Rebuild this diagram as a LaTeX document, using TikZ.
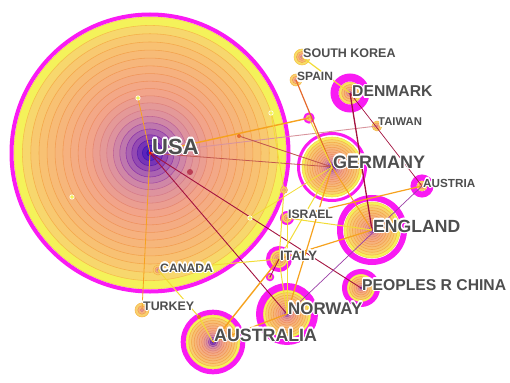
\documentclass[tikz,border=0pt]{standalone}
\usepackage{fontspec}
\setmainfont{Liberation Sans}
\usepackage{contour}
\contourlength{1.1pt}
\contournumber{16}
% fill stops
\definecolor{f0}{HTML}{3018C0}
\definecolor{f1}{HTML}{5A22BC}
\definecolor{f2}{HTML}{8C42B2}
\definecolor{f3}{HTML}{B872B0}
\definecolor{f4}{HTML}{DC92A0}
\definecolor{f5}{HTML}{F2A48A}
\definecolor{f6}{HTML}{F6B27E}
\definecolor{f7}{HTML}{F8C272}
\definecolor{f8}{HTML}{F8D270}
\definecolor{f9}{HTML}{F4F25A}
% line stops
\definecolor{l0}{HTML}{2010A0}
\definecolor{l1}{HTML}{4018B0}
\definecolor{l2}{HTML}{7020A8}
\definecolor{l3}{HTML}{9A40A8}
\definecolor{l4}{HTML}{D47A8C}
\definecolor{l5}{HTML}{EE8E62}
\definecolor{l6}{HTML}{F29A52}
\definecolor{l7}{HTML}{F4A848}
\definecolor{l8}{HTML}{F6B848}
\definecolor{l9}{HTML}{F6D44C}
\definecolor{mag}{HTML}{F91BF3}
\definecolor{labc}{HTML}{4E4E4E}
\definecolor{eorange}{HTML}{F6A21E}
\definecolor{eyellow}{HTML}{F2DC36}
\definecolor{edark}{HTML}{A3123F}
\definecolor{epink}{HTML}{D8949C}
\definecolor{epurple}{HTML}{9A3FA6}
\definecolor{ebrown}{HTML}{C2574E}
\definecolor{ered}{HTML}{E56A2C}
\newcommand\rseg[4]{\pgfmathsetmacro\rpc{100*(#2-\rtv)/(#2-#1)}%
  \colorlet{rc}{f#3!\rpc!f#4}\colorlet{rl}{l#3!\rpc!l#4}}
\newcommand\setrc[1]{%
  \pgfmathsetmacro\rtv{#1}%
  \ifdim\rtv pt<0.04pt \rseg{0}{0.04}{0}{1}\else
  \ifdim\rtv pt<0.10pt \rseg{0.04}{0.10}{1}{2}\else
  \ifdim\rtv pt<0.18pt \rseg{0.10}{0.18}{2}{3}\else
  \ifdim\rtv pt<0.28pt \rseg{0.18}{0.28}{3}{4}\else
  \ifdim\rtv pt<0.45pt \rseg{0.28}{0.45}{4}{5}\else
  \ifdim\rtv pt<0.63pt \rseg{0.45}{0.63}{5}{6}\else
  \ifdim\rtv pt<0.8pt \rseg{0.63}{0.8}{6}{7}\else
  \ifdim\rtv pt<0.9pt \rseg{0.8}{0.9}{7}{8}\else
  \ifdim\rtv pt<0.95pt \rseg{0.9}{0.95}{8}{9}\else
  \colorlet{rc}{f9}\colorlet{rl}{l9}%
  \fi\fi\fi\fi\fi\fi\fi\fi\fi}
% #1 coordinate, #2 radius, #3 rings, #4 colour power
\newcommand\ringset[4]{%
  \foreach \i in {#3,...,1}{%
    \pgfmathsetmacro\rtt{((\i-0.5)/#3)^(1.25*#4)}%
    \setrc{\rtt}%
    \path[fill=rc, draw=rl, line width=0.55pt] (#1) circle[radius={#2*(\i/#3)^1.25*1pt}];
  }}
\newcommand\magring[3]{\draw[mag, line width=#3pt] (#1) circle[radius=#2pt];}
\tikzset{
  lab/.style={anchor=base west, inner sep=0pt, text=labc, font=\bfseries\fontsize{#1}{#1}\selectfont},
  eo/.style={eorange, line width=#1pt}, eo/.default=1.2,
  ey/.style={eyellow, line width=#1pt}, ey/.default=1,
  ed/.style={edark, line width=#1pt}, ed/.default=0.9,
  ep/.style={epink, line width=0.9pt},
  eu/.style={epurple, line width=0.7pt},
  eb/.style={ebrown, line width=0.8pt},
  er/.style={ered, line width=1.2pt},
}
\begin{document}
\begin{tikzpicture}[x=1pt,y=-1pt]
\useasboundingbox (0,0) rectangle (510,382);
% node positions
\coordinate (usa) at (150,153);
\coordinate (ger) at (332,167);
\coordinate (den) at (350,93);
\coordinate (sk) at (302,57);
\coordinate (spa) at (296,80);
\coordinate (tai) at (377,126);
\coordinate (aut) at (422,186);
\coordinate (eng) at (372,230);
\coordinate (isr) at (287,218);
\coordinate (ita) at (279,259);
\coordinate (chn) at (361,288);
\coordinate (nor) at (287,314);
\coordinate (aus) at (213,342);
\coordinate (can) at (158,270);
\coordinate (tur) at (142,310);
\coordinate (m1) at (309,118);
\coordinate (m2) at (270,277);
\coordinate (s1) at (284,190);
\coordinate (t1) at (138,98);
\coordinate (t2) at (72,197);
\coordinate (t3) at (271,113);
\coordinate (t4) at (250,218);
\coordinate (t5) at (190,172);
\coordinate (t6) at (239,136);
\coordinate (t7) at (199,317);
% big discs
\ringset{usa}{136}{20}{1}
\magring{usa}{138.5}{4}
\ringset{ger}{30}{14}{0.8}
\magring{ger}{33.5}{3}
\ringset{eng}{28}{12}{0.6}
\magring{eng}{32}{6}
\ringset{nor}{24}{11}{0.65}
\magring{nor}{27.5}{7}
\ringset{aus}{27}{12}{0.85}
\magring{aus}{29.8}{5}
\ringset{chn}{14}{7}{0.6}
\magring{chn}{16.5}{5}
\ringset{den}{11}{5}{0.6}
\magring{den}{15.5}{8}
\ringset{aut}{5}{3}{0.5}
\magring{aut}{8.5}{6}
\ringset{ita}{9}{5}{0.6}
\magring{ita}{11}{4}
\ringset{isr}{5}{3}{0.5}
\magring{isr}{6}{2}
\ringset{m1}{3.5}{2}{0.5}
\magring{m1}{4.6}{2}
\ringset{m2}{2.5}{2}{0.6}
\magring{m2}{3.4}{1.6}
\ringset{sk}{8}{4}{0.5}
\ringset{spa}{6}{3}{0.5}
\ringset{tai}{5}{3}{0.45}
\ringset{can}{5}{3}{0.6}
\ringset{tur}{7}{3}{0.5}
\ringset{s1}{3.5}{2}{0.6}
% edges
\draw[eb] (usa) -- (ger);
\draw[eo=1.4] (usa) -- (m1);
\draw[ep] (usa) -- (tai);
\draw[ed] (usa) -- (chn);
\draw[ed] (usa) -- (nor);
\draw[eo=0.8] (usa) -- (tur);
\draw[eo=0.8] (usa) -- (t1);
\draw[ey=0.8] (t3) -- (s1);
\draw[ey=0.8] (t4) -- (ger);
\draw[eb] (t6) -- (ger);
\draw[ey] (can) -- (t7) -- (aus);
\draw[ey] (can) -- (ita);
\draw[ey=1.2] (sk) -- (den);
\draw[er] (spa) -- (ger);
\draw[ed=1.3] (den) -- (eng);
\draw[ed=0.7] (den) -- (aut);
\draw[eo] (aut) -- (isr);
\draw[eu] (aut) -- (nor);
\draw[eo] (eng) -- (ita);
\draw[ey] (eng) -- (isr);
\draw[eo] (ger) -- (nor);
\draw[ey] (s1) -- (ita);
\draw[eo=1.4] (ita) -- (aus);
\draw[eo] (nor) -- (aus);
\draw[ey] (m1) -- (ger);
\draw[eo=1] (ger) -- (eng);
\draw[ey] (ita) -- (nor);
\draw[ey] (isr) -- (nor);
\draw[ey] (ger) -- (ita);
\draw[ed=0.8] (ita) -- (m2);
% tiny nodes inside USA
\foreach \c in {t1,t2,t3,t4}{\draw[white, fill=f9, line width=0.6pt] (\c) circle[radius=2.2pt];}
\fill[edark!70!f5] (t5) circle[radius=3pt];
\fill[ered] (t6) circle[radius=2pt];
\fill[ered] (t7) circle[radius=2pt];
\fill[red] (usa) circle[radius=1.5pt];
% labels
\node[lab=22] (lusa) at (152,154) {\contour{white}{USA}};
\node[lab=18] (lger) at (333,168) {\contour{white}{GERMANY}};
\node[lab=15.7] (lden) at (352,97) {\contour{white}{DENMARK}};
\node[lab=12.5] (lsk) at (303,58) {\contour{white}{SOUTH KOREA}};
\node[lab=12] (lspa) at (297,81) {\contour{white}{SPAIN}};
\node[lab=11.3] (ltai) at (378,126) {\contour{white}{TAIWAN}};
\node[lab=11.7] (laut) at (423,187) {\contour{white}{AUSTRIA}};
\node[lab=17.6] (leng) at (373,232) {\contour{white}{ENGLAND}};
\node[lab=12.2] (lisr) at (288,218) {\contour{white}{ISRAEL}};
\node[lab=13.6] (lita) at (280,260) {\contour{white}{ITALY}};
\node[lab=12.2] (lcan) at (160,272) {\contour{white}{CANADA}};
\node[lab=12.4] (ltur) at (143,310) {\contour{white}{TURKEY}};
\node[lab=15.7] (lchn) at (362,290) {\contour{white}{PEOPLES R CHINA}};
\node[lab=16.9] (lnor) at (288,314) {\contour{white}{NORWAY}};
\node[lab=17.8] (laus) at (214,341) {\contour{white}{AUSTRALIA}};
\end{tikzpicture}
\end{document}
